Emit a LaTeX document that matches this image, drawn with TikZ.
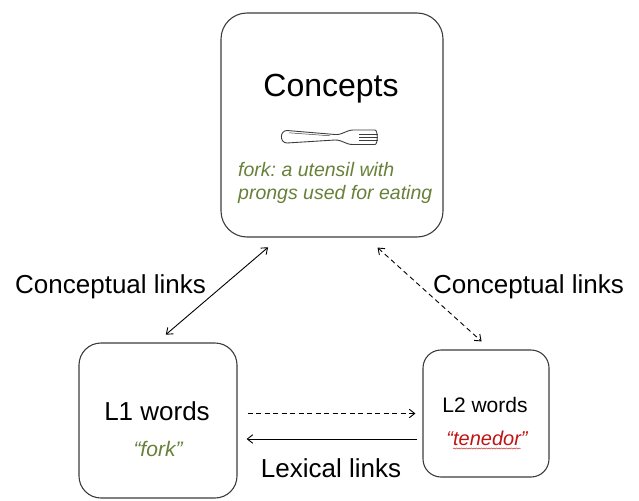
\documentclass[tikz,border=0pt]{standalone}
\usepackage{fontspec}
\setmainfont{Liberation Sans}
\usepackage{tikz}
\usetikzlibrary{arrows.meta, decorations.pathmorphing}
\definecolor{edge}{RGB}{60, 60, 60}
\definecolor{gloss}{RGB}{104, 128, 58}
\definecolor{wordred}{RGB}{192, 20, 20}
\newcommand{\fs}[1]{\fontsize{#1}{#1}\selectfont}
\frenchspacing

\begin{document}
\begin{tikzpicture}[x=1pt, y=-1pt,
  box/.style={draw=edge, line width=1.1pt, inner sep=0pt},
  lbl/.style={inner sep=0pt, anchor=base},
  link/.style={line width=0.9pt, {Straight Barb[length=5.5pt, width=8.5pt]}-{Straight Barb[length=5.5pt, width=8.5pt]}},
  oneway/.style={line width=0.9pt, -{Straight Barb[length=5.5pt, width=8.5pt]}},
  dashlink/.style={dash pattern=on 5pt off 3.5pt}]

  \useasboundingbox (0, 0) rectangle (639, 500);

  % the three boxes
  \node[box, rounded corners=26pt, minimum width=222pt, minimum height=224pt] (concepts) at (332, 125) {};
  \node[box, rounded corners=22pt, minimum width=158pt, minimum height=155pt] (lone) at (158, 420.5) {};
  \node[box, rounded corners=18pt, minimum width=126pt, minimum height=127pt] (ltwo) at (486, 413.5) {};

  \node[lbl] (conceptsname) at (331, 97) {\fs{32}Concepts};
  \node[lbl, anchor=base west, text=gloss] (glossa) at (238, 176) {\fs{19.5}\itshape fork: a utensil with};
  \node[lbl, anchor=base west, text=gloss] (glossb) at (238, 199) {\fs{19.5}\itshape prongs used for eating};

  \node[lbl] (lonename) at (157, 420) {\fs{26}L1 words};
  \node[lbl, text=gloss] (loneword) at (158, 456) {\fs{21}\itshape ``fork''};
  \node[lbl] (ltwoname) at (485, 412) {\fs{21}L2 words};
  \node[lbl, text=wordred] (ltwoword) at (487, 445) {\fs{20}\itshape ``tenedor''};
  \draw[wordred, line width=0.4pt, decorate, decoration={snake, amplitude=0.6pt, segment length=2.5pt}]
    ([xshift=7pt, yshift=-3.5pt]ltwoword.base west) -- ([xshift=-7pt, yshift=-3.5pt]ltwoword.base east);

  \node[lbl, anchor=base west] (clinka) at (15, 293) {\fs{26}Conceptual links};
  \node[lbl, anchor=base west] (clinkb) at (433, 293) {\fs{26}Conceptual links};
  \node[lbl] (lexlink) at (331, 477) {\fs{26}Lexical links};

  % fork
  \begin{scope}[edge, line width=0.9pt]
    \draw (287, 130.5) -- (335, 134.5) .. controls (343, 135) and (345, 130.5) .. (353, 130) -- (375, 130)
      .. controls (378, 130) and (378, 144.5) .. (375, 144.5) -- (353, 144.5)
      .. controls (345, 144.5) and (343, 140) .. (335, 140) -- (287, 143)
      .. controls (279.5, 143) and (279.5, 130.5) .. (287, 130.5) -- cycle;
    \draw[line width=0.5pt] (289, 132.8) -- (330, 135.8);
    \foreach \y in {134, 137.3, 140.6} {
      \draw (359, \y) -- (378, \y);
    }
  \end{scope}

  % links
  \draw[link, shorten <=15pt, shorten >=12pt] (concepts.245) -- (lone.91.5);
  \draw[link, dashlink, shorten <=15pt, shorten >=12pt] (concepts.287.5) -- (ltwo.86.7);
  \draw[oneway, dashlink, shorten <=10pt, shorten >=7pt] (lone.east |- ltwo.west) -- (ltwo.west);
  \coordinate (lexstart) at ([xshift=-5pt, yshift=-25.5pt]ltwo.west);
  \draw[oneway, shorten >=9pt] (lexstart) -- (lexstart -| lone.east);

\end{tikzpicture}
\end{document}
